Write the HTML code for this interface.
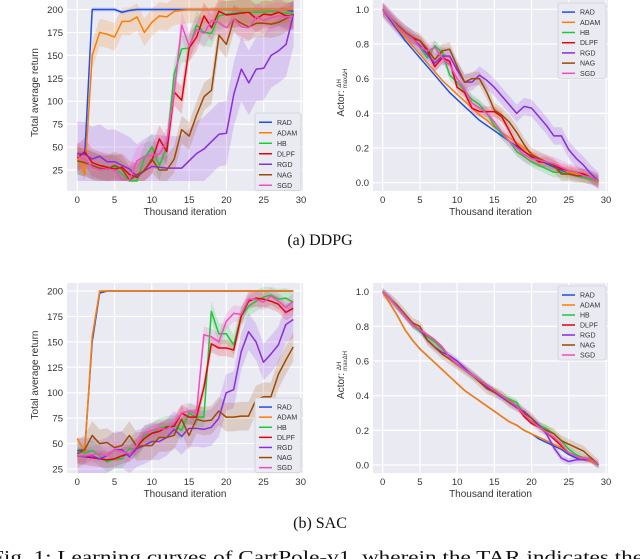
<!DOCTYPE html>
<html><head><meta charset="utf-8"><style>
html,body{margin:0;padding:0;background:#fff;width:640px;height:559px;overflow:hidden}
svg{display:block}
text{font-family:"Liberation Sans",sans-serif}
.serif{font-family:"Liberation Serif",serif}
</style></head><body>
<svg id="fig" width="640" height="559" viewBox="0 0 640 559" xmlns="http://www.w3.org/2000/svg">
<text class="serif" x="320" y="245" font-size="16" text-anchor="middle" fill="#111">(a) DDPG</text>
<text class="serif" x="320" y="528" font-size="16" text-anchor="middle" fill="#111">(b) SAC</text>
<text class="serif" x="-9" y="563" font-size="18" textLength="652" lengthAdjust="spacingAndGlyphs" fill="#111">Fig. 1: Learning curves of CartPole-v1, wherein the TAR indicates the</text>
</svg>
<script>
const seriesNames = ["RAD","ADAM","HB","DLPF","RGD","NAG","SGD"];
const seriesColors = ["#1f4fe8","#ff7c00","#1ac938","#e8000b","#8b2be2","#9f4800","#f14cc1"];
const xTicks = [0,5,10,15,20,25,30];
const retTicks = [25,50,75,100,125,150,175,200];
const actTicks = [0,0.2,0.4,0.6,0.8,1.0];

// DDPG return
const ddpgRAD  = [43,42,200,200,200,200,197,199,200,200,200,200,200,200,200,200,200,200,200,200,200,200,200,200,200,200,200,200,200,198];
const ddpgADAM = [42,20,150,175,173,170,187,187,192,175,186,193,192,198,199,200,200,200,200,200,200,200,200,200,200,200,200,200,200,200];
const ddpgHB   = [35,33,30,27,25,28,20,13,13,38,50,30,50,130,157,158,183,175,174,193,195,196,197,197,197,197,198,197,196,195];
const ddpgDLPF = [38,45,33,30,28,26,28,20,17,25,35,59,45,110,101,158,170,193,180,198,194,195,196,197,190,195,194,197,193,193];
const ddpgRGD  = [43,42,37,40,34,34,30,26,18,24,29,28,27,27,27,35,43,48,56,64,65,108,135,120,135,136,150,155,162,195];
const ddpgNAG  = [35,33,30,27,26,30,26,14,20,24,37,25,25,37,69,62,85,105,112,172,162,190,185,181,185,185,184,186,190,195];
const ddpgSGD  = [40,37,28,25,26,25,15,14,35,40,41,42,56,110,183,160,178,174,188,186,180,190,181,180,192,188,191,193,192,193];
const ddpgBand = [2,15,15,15,35,15,15];

// DDPG actor
const dActRAD  = [1.0,0.94,0.88,0.82,0.77,0.72,0.67,0.62,0.57,0.52,0.48,0.44,0.40,0.36,0.33,0.30,0.27,0.24,0.21,0.18,0.15,0.13,0.11,0.09,0.07,0.06,0.04,0.03,0.02,0.0];
const dActADAM = [1.0,0.95,0.89,0.84,0.79,0.74,0.69,0.64,0.59,0.55,0.51,0.47,0.43,0.39,0.36,0.32,0.29,0.26,0.23,0.20,0.17,0.14,0.12,0.10,0.08,0.06,0.05,0.03,0.02,0.0];
const dActHB   = [1.0,0.95,0.90,0.86,0.83,0.78,0.72,0.79,0.75,0.62,0.58,0.53,0.48,0.45,0.40,0.33,0.28,0.24,0.18,0.15,0.12,0.10,0.08,0.06,0.06,0.05,0.04,0.03,0.02,0.01];
const dActDLPF = [1.0,0.95,0.90,0.86,0.83,0.82,0.76,0.67,0.72,0.70,0.55,0.52,0.43,0.41,0.41,0.41,0.38,0.30,0.22,0.18,0.15,0.12,0.12,0.10,0.08,0.07,0.06,0.05,0.03,0.01];
const dActRGD  = [1.0,0.95,0.90,0.86,0.83,0.79,0.74,0.69,0.73,0.73,0.65,0.58,0.58,0.62,0.59,0.55,0.50,0.45,0.40,0.44,0.43,0.38,0.33,0.27,0.27,0.19,0.14,0.10,0.05,0.01];
const dActNAG  = [1.0,0.95,0.91,0.87,0.84,0.82,0.77,0.71,0.76,0.77,0.67,0.58,0.60,0.60,0.52,0.42,0.39,0.35,0.29,0.22,0.16,0.14,0.12,0.10,0.05,0.05,0.04,0.04,0.03,0.01];
const dActSGD  = [1.0,0.95,0.90,0.86,0.83,0.78,0.76,0.78,0.72,0.68,0.60,0.54,0.46,0.43,0.40,0.35,0.29,0.24,0.20,0.16,0.14,0.13,0.12,0.11,0.09,0.07,0.06,0.04,0.03,0.01];
const dActBand = [0,0,0.03,0.03,0.05,0.04,0.04];

// SAC return
const sacRAD  = [43,44,150,198,200,200,200,200,200,200,200,200,200,200,200,200,200,200,200,200,200,200,200,200,200,200,200,200,200,200];
const sacADAM = [55,42,155,200,200,200,200,200,200,200,200,200,200,200,200,200,200,200,200,200,200,200,200,200,200,200,200,200,200,200];
const sacHB   = [42,41,43,38,32,35,35,45,45,58,60,65,67,68,63,80,76,76,180,158,158,147,175,185,190,194,196,192,193,189];
const sacDLPF = [38,37,36,35,34,35,38,40,47,55,60,62,66,67,80,76,76,105,148,144,144,142,175,190,193,192,190,187,179,183];
const sacRGD  = [38,37,38,35,38,44,44,37,45,48,52,52,56,64,57,65,65,64,66,75,100,103,140,160,150,130,138,147,167,172];
const sacNAG  = [40,44,58,50,51,46,48,58,47,48,48,56,56,58,74,58,74,72,73,82,76,76,77,77,93,96,96,118,132,145];
const sacSGD  = [38,38,39,40,38,44,42,40,48,60,63,65,64,70,80,82,80,157,155,150,170,178,177,192,192,189,195,190,184,190];
const sacBand = [1,1,10,8,18,14,8];

// SAC actor
const sActRAD  = [1.0,0.93,0.86,0.78,0.72,0.67,0.63,0.59,0.55,0.51,0.47,0.43,0.40,0.37,0.34,0.31,0.28,0.25,0.23,0.20,0.18,0.15,0.13,0.11,0.09,0.06,0.04,0.03,0.02,0.0];
const sActADAM = [1.0,0.93,0.86,0.78,0.72,0.67,0.63,0.59,0.55,0.51,0.47,0.43,0.40,0.37,0.34,0.31,0.28,0.25,0.23,0.20,0.18,0.16,0.14,0.12,0.10,0.07,0.05,0.03,0.02,0.0];
const sActHB   = [1.0,0.96,0.91,0.86,0.81,0.77,0.74,0.71,0.67,0.62,0.58,0.55,0.52,0.49,0.46,0.43,0.40,0.38,0.36,0.29,0.25,0.23,0.21,0.18,0.14,0.09,0.06,0.04,0.03,0.0];
const sActDLPF = [1.0,0.96,0.91,0.86,0.81,0.78,0.75,0.72,0.68,0.62,0.58,0.55,0.52,0.49,0.46,0.43,0.40,0.37,0.34,0.28,0.24,0.22,0.19,0.15,0.11,0.07,0.05,0.04,0.03,0.0];
const sActRGD  = [1.0,0.96,0.91,0.86,0.81,0.78,0.72,0.68,0.65,0.63,0.60,0.56,0.52,0.49,0.45,0.42,0.39,0.36,0.33,0.31,0.27,0.23,0.18,0.10,0.04,0.02,0.03,0.03,0.03,0.0];
const sActNAG  = [1.0,0.96,0.92,0.87,0.82,0.80,0.72,0.68,0.64,0.61,0.58,0.55,0.52,0.48,0.44,0.42,0.40,0.36,0.34,0.30,0.27,0.22,0.20,0.18,0.14,0.12,0.10,0.08,0.04,0.0];
const sActSGD  = [1.0,0.96,0.91,0.86,0.81,0.78,0.75,0.72,0.68,0.62,0.58,0.55,0.52,0.49,0.46,0.43,0.40,0.37,0.34,0.29,0.25,0.22,0.19,0.16,0.12,0.07,0.05,0.04,0.03,0.0];
const sActBand = [0,0,0.02,0.01,0.02,0.03,0.01];

const NS = "http://www.w3.org/2000/svg";
const svg = document.getElementById("fig");
function mk(tag, attrs, parent){const e=document.createElementNS(NS,tag);for(const k in attrs)e.setAttribute(k,attrs[k]);(parent||svg).appendChild(e);return e;}

function drawChart(cfg){
  const g = mk("g",{});
  
  
  const sx = v => cfg.x0 + (v-0)*(cfg.x30-cfg.x0)/30;
  const sy = v => cfg.yb + (v-cfg.ymin)*(cfg.yt-cfg.yb)/(cfg.ymax-cfg.ymin);
  const bg = mk("rect",{x:cfg.bx0,y:cfg.by0,width:cfg.bx1-cfg.bx0,height:cfg.by1-cfg.by0,fill:"#eaeaf2"},g);
  
  
  xTicks.forEach(t=>{
    mk("line",{x1:sx(t),x2:sx(t),y1:cfg.by0,y2:cfg.by1,stroke:"#fff","stroke-width":1.2},g);
    const tl = mk("text",{x:sx(t),y:cfg.by1+12,"font-size":9.5,"text-anchor":"middle",fill:"#333"},g);
    tl.textContent=t;
    
    
  });
  cfg.yTicks.forEach(t=>{
    mk("line",{x1:cfg.bx0,x2:cfg.bx1,y1:sy(t),y2:sy(t),stroke:"#fff","stroke-width":1.2},g);
    const tl = mk("text",{x:cfg.bx0-4,y:sy(t)+3.5,"font-size":9.5,"text-anchor":"end",fill:"#333"},g);
    tl.textContent = cfg.fmt(t);
    
    
  });
  const xl = mk("text",{x:(cfg.bx0+cfg.bx1)/2,y:cfg.by1+24,"font-size":10,"text-anchor":"middle",fill:"#333"},g);
  xl.textContent="Thousand iteration";
  
  
  const yl = mk("text",{x:0,y:0,"font-size":10,"text-anchor":"middle",fill:"#333",transform:`translate(${cfg.ylx},${(cfg.by0+cfg.by1)/2-3}) rotate(-90)`},g);
  
  
  if(cfg.actor){
    yl.textContent="Actor: ";
    const t1 = mk("tspan",{"font-size":6,dy:-3},yl); t1.textContent="ΔH";
    const t2 = mk("tspan",{"font-size":6,dx:-9,dy:6},yl); t2.textContent="maxΔH";
  } else yl.textContent="Total average return";
  // bands
  cfg.data.forEach((arr,i)=>{
    const w = cfg.band[i]; if(!w) return;
    let d="";
    arr.forEach((v,k)=>{d+=(k?"L":"M")+sx(k)+","+sy(Math.min(cfg.ymax+cfg.pad,v+w));});
    for(let k=arr.length-1;k>=0;k--) d+="L"+sx(k)+","+sy(Math.max(cfg.ymin-cfg.pad,arr[k]-w));
    const p = mk("path",{d:d+"Z",fill:seriesColors[i],opacity:0.18},g);
    
    
  });
  cfg.data.forEach((arr,i)=>{
    const pts = arr.map((v,k)=>sx(k)+","+sy(v)).join(" ");
    const pl = mk("polyline",{points:pts,fill:"none",stroke:seriesColors[i],"stroke-width":1.5,"stroke-linejoin":"round"},g);
    
    
  });
  // legend
  const L = cfg.leg;
  const lg = mk("g",{},g);
  
  
  mk("rect",{x:L.x,y:L.y,width:L.w,height:L.rh*7+4,fill:"#eaeaf2",stroke:"#cfcfd8","stroke-width":0.8,rx:2},lg);
  seriesNames.forEach((n,i)=>{
    const yy = L.y+5+L.rh*i+L.rh/2-1;
    const ln = mk("line",{x1:L.x+4,x2:L.x+17,y1:yy,y2:yy,stroke:seriesColors[i],"stroke-width":1.5},lg);
    
    
    const tx = mk("text",{x:L.x+22,y:yy+2.5,"font-size":7,fill:"#333"},lg);
    tx.textContent=n;
    
    
  });
}

const fmtInt = t=>String(t);
const fmtF = t=>t.toFixed(1);
drawChart({name:"ddpg-return-chart",bx0:67,bx1:303,by0:0,by1:191,x0:77.3,x30:301,ymin:25,ymax:200,yb:170,yt:9.5,pad:12,yTicks:retTicks,fmt:fmtInt,ylx:38,
  data:[ddpgRAD,ddpgADAM,ddpgHB,ddpgDLPF,ddpgRGD,ddpgNAG,ddpgSGD],band:ddpgBand,leg:{x:255,y:113,w:46,rh:10.5}});
drawChart({name:"ddpg-actor-chart",actor:true,bx0:373,bx1:608,by0:0,by1:191,x0:382.7,x30:606,ymin:0,ymax:1,yb:182.7,yt:9.3,pad:0.04,yTicks:actTicks,fmt:fmtF,ylx:344,
  data:[dActRAD,dActADAM,dActHB,dActDLPF,dActRGD,dActNAG,dActSGD],band:dActBand,leg:{x:558,y:3,w:48,rh:10.2}});
drawChart({name:"sac-return-chart",bx0:67,bx1:303,by0:283,by1:473,x0:77.3,x30:300.7,ymin:25,ymax:200,yb:469,yt:291,pad:4,yTicks:retTicks,fmt:fmtInt,ylx:38,
  data:[sacRAD,sacADAM,sacHB,sacDLPF,sacRGD,sacNAG,sacSGD],band:sacBand,leg:{x:255,y:398,w:46,rh:10.1}});
drawChart({name:"sac-actor-chart",actor:true,bx0:373,bx1:608,by0:283,by1:473,x0:382.7,x30:606,ymin:0,ymax:1,yb:465,yt:291.7,pad:0.02,yTicks:actTicks,fmt:fmtF,ylx:344,
  data:[sActRAD,sActADAM,sActHB,sActDLPF,sActRGD,sActNAG,sActSGD],band:sActBand,leg:{x:558,y:286,w:48,rh:10}});
</script>
</body></html>
